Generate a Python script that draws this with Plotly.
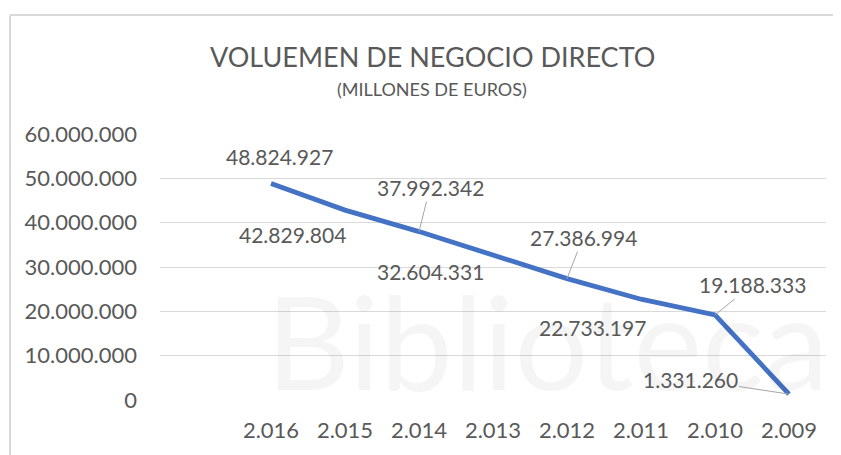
import plotly.graph_objects as go

years = ["2.016", "2.015", "2.014", "2.013", "2.012", "2.011", "2.010", "2.009"]
values = [48824927, 42829804, 37992342, 32604331, 27386994, 22733197, 19188333, 1331260]
value_labels = ["48.824.927", "42.829.804", "37.992.342", "32.604.331",
                "27.386.994", "22.733.197", "19.188.333", "1.331.260"]
y_ticks = [0, 10000000, 20000000, 30000000, 40000000, 50000000, 60000000]
y_tick_labels = ["0", "10.000.000", "20.000.000", "30.000.000", "40.000.000",
                 "50.000.000", "60.000.000"]

# label placement (pixels): (dx, dy-up, leader line?)
label_pos = [(8, 27, False), (-53, -24, False), (11, 44, True), (-63, -16, False),
             (16, 41, True), (-49, -28, False), (37, 30, True), (-99, 15, True)]

FONT = "Lato"
TXT = "#595959"

# plot area in window pixels: x 160..826, y 134..400 (page body has 8px margin)
PX0, PX1, PY0, PY1 = 160, 826, 134, 400
def px(x):
    return (x - PX0) / (PX1 - PX0)
def py(y):
    return (PY1 - y) / (PY1 - PY0)

fig = go.Figure()
fig.add_trace(go.Scatter(
    x=years, y=values, mode="lines",
    line=dict(color="#4472C4", width=4.8),
    hoverinfo="skip", showlegend=False,
))

annotations = []
# watermark
annotations.append(dict(
    x=px(547), y=py(340), xref="paper", yref="paper", text="Biblioteca",
    showarrow=False, xanchor="center", yanchor="middle",
    font=dict(family="Lato", size=130, color="rgba(0,0,0,0.04)"),
))
for i, (v, lab, (dx, dy, lead)) in enumerate(zip(values, value_labels, label_pos)):
    if lead:
        annotations.append(dict(
            x=i, y=v, xref="x", yref="y", text=lab, showarrow=True,
            ax=dx, ay=-dy, arrowhead=0, arrowwidth=1, arrowcolor="#a6a6a6",
            font=dict(family=FONT, size=21, color=TXT),
        ))
    else:
        annotations.append(dict(
            x=i, y=v, xref="x", yref="y", text=lab, showarrow=False,
            xshift=dx, yshift=dy,
            font=dict(family=FONT, size=21, color=TXT),
        ))

# titles
annotations.append(dict(
    x=px(432), y=py(56), xref="paper", yref="paper", text="VOLUEMEN DE NEGOCIO DIRECTO",
    showarrow=False, xanchor="center", yanchor="middle",
    font=dict(family=FONT, size=27, color=TXT),
))
annotations.append(dict(
    x=px(432), y=py(89), xref="paper", yref="paper", text="(MILLONES DE EUROS)",
    showarrow=False, xanchor="center", yanchor="middle",
    font=dict(family=FONT, size=18, color=TXT),
))

fig.update_layout(
    width=841, height=455,
    margin=dict(l=PX0 - 8, r=841 - (PX1 - 8), t=PY0 - 8, b=455 - (PY1 - 8)),
    paper_bgcolor="white", plot_bgcolor="white",
    xaxis=dict(
        type="category", categoryorder="array", categoryarray=years,
        range=[-1.5, 7.5], showgrid=False, showline=False, zeroline=False,
        ticks="", ticklabelstandoff=15,
        tickfont=dict(family=FONT, size=22, color=TXT),
    ),
    yaxis=dict(
        range=[0, 60000000], tickvals=y_ticks, ticktext=y_tick_labels,
        showgrid=True, gridcolor="#d9d9d9", gridwidth=1,
        zeroline=False, showline=False, ticks="", ticklabelstandoff=22,
        tickfont=dict(family=FONT, size=22, color=TXT),
    ),
    annotations=annotations,
    shapes=[
        dict(type="line", xref="paper", yref="paper",
             x0=px(10), x1=px(10), y0=py(470), y1=py(15),
             line=dict(color="#d9d9d9", width=2)),
        dict(type="line", xref="paper", yref="paper",
             x0=px(10), x1=px(860), y0=py(15), y1=py(15),
             line=dict(color="#d9d9d9", width=2)),
    ],
)

fig.write_html("out.html")
